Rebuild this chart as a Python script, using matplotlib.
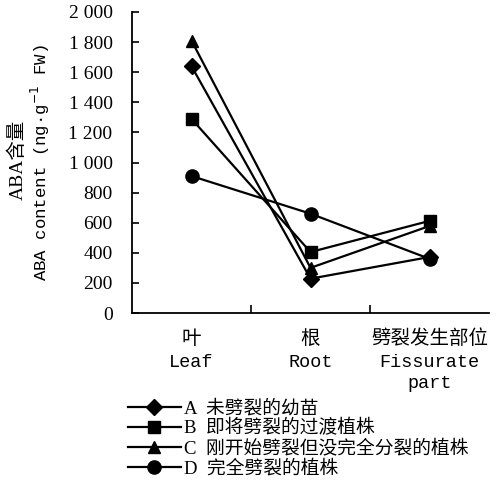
import numpy as np
import matplotlib
matplotlib.use("Agg")
import matplotlib.pyplot as plt

# ABA content by organ for four plant groups
cat_cn = ["叶", "根", "劈裂发生部位"]
cat_en = ["Leaf", "Root", "Fissurate\npart"]
series_a = [1640, 228, 372]
series_b = [1290, 405, 612]
series_c = [1810, 300, 578]
series_d = [910, 660, 360]
labels = ["A  未劈裂的幼苗", "B  即将劈裂的过渡植株",
          "C  刚开始劈裂但没完全分裂的植株", "D  完全劈裂的植株"]
yticks = [0, 200, 400, 600, 800, 1000, 1200, 1400, 1600, 1800, 2000]
ytick_labels = ["0", "200", "400", "600", "800", "1 000", "1 200",
                "1 400", "1 600", "1 800", "2 000"]

serif_cjk = ["Liberation Serif", "Noto Sans CJK SC"]

fig = plt.figure(figsize=(4.96, 4.91), dpi=100)
ax = fig.add_axes([132/496, 1-313/491, (489-132)/496, (313-12)/491])

x = np.arange(len(cat_cn))
markers = ["D", "s", "^", "o"]
sizes = [8, 9, 9, 9.5]
for ys, m, ms, lab in zip([series_a, series_b, series_c, series_d], markers, sizes, labels):
    ax.plot(x, ys, color="black", lw=1.6, marker=m, ms=ms, label=lab)

ax.set_xlim(-0.5, 2.5)
ax.set_ylim(0, 2000)
ax.spines["top"].set_visible(False)
ax.spines["right"].set_visible(False)
ax.spines["left"].set_linewidth(1.3)
ax.spines["bottom"].set_linewidth(1.3)

ax.set_yticks(yticks)
ax.set_yticklabels(ytick_labels, family="Liberation Serif", fontsize=14)
ax.tick_params(axis="y", direction="in", length=5, width=1.2, pad=14)

ax.set_xticks(x)
ax.set_xticklabels([])
ax.tick_params(axis="x", which="major", length=0)
ax.set_xticks([0.5, 1.5], minor=True)
ax.tick_params(axis="x", which="minor", direction="in", length=6, width=1.2)

trans = ax.get_xaxis_transform()
for xi, cn, en in zip(x, cat_cn, cat_en):
    ax.text(xi, -25/301, cn, transform=trans, ha="center", va="center",
            family="Noto Sans CJK SC", fontsize=14)
    ax.text(xi, -41/301, en, transform=trans, ha="center", va="top",
            family="Liberation Mono", fontsize=13.3, linespacing=1.3)

fig.text(18/496, 1-160/491, "ABA含量", rotation=90, ha="center", va="center",
         family=serif_cjk, fontsize=14)
fig.text(40/496, 1-163/491, "ABA content (ng·g$^{-1}$ FW)", rotation=90,
         ha="center", va="center", family="Liberation Mono", fontsize=12.5)

ax.legend(loc="upper left", bbox_to_anchor=(128/496, 1-400/491),
          bbox_transform=fig.transFigure, frameon=False,
          prop={"family": serif_cjk, "size": 13.5}, handlelength=2.8,
          handletextpad=0.2, labelspacing=0.1, borderpad=0, borderaxespad=0)

fig.savefig("out.png", dpi=100)
